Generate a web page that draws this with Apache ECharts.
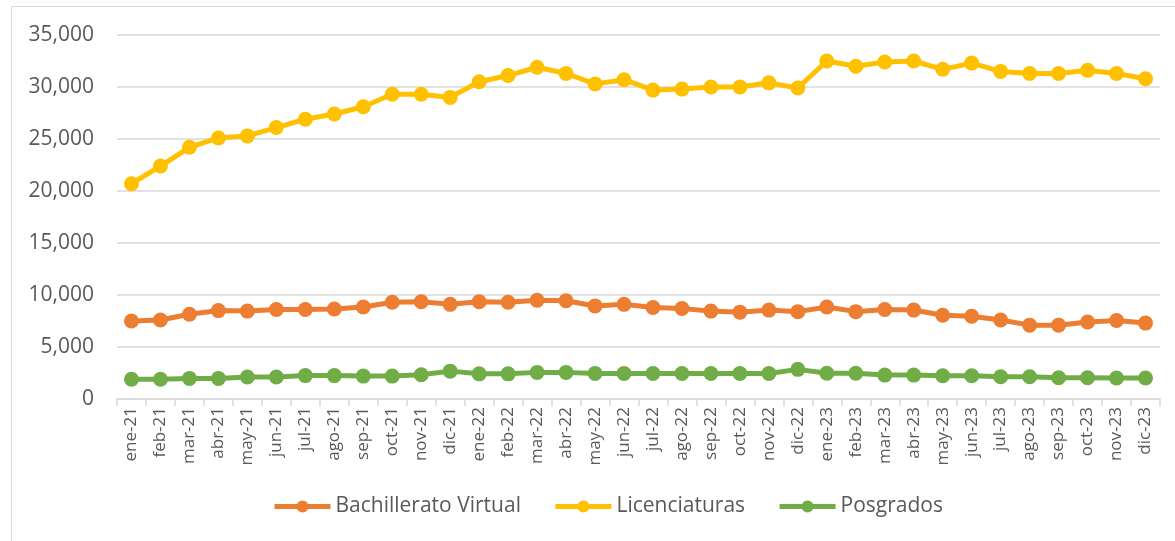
<!DOCTYPE html>
<html lang="es">
<head>
<meta charset="UTF-8">
<title>Matrícula mensual</title>
<script src="https://cdn.jsdelivr.net/npm/echarts@6/dist/echarts.min.js"></script>
<style>
    body { margin: 0; padding: 0; background: #fff; overflow: hidden; }
    #frame {
        position: absolute; left: 11px; top: 6px;
        width: 1200px; height: 600px;
        border: 1px solid #d9d9d9;
    }
    #main { position: absolute; left: 0; top: 0; width: 1175px; height: 541px; }
</style>
</head>
<body>
<div id="frame"></div>
<div id="main"></div>
<script type="text/javascript">
    // meses (eje X)
    var meses = ['ene-21','feb-21','mar-21','abr-21','may-21','jun-21','jul-21','ago-21','sep-21','oct-21','nov-21','dic-21',
                 'ene-22','feb-22','mar-22','abr-22','may-22','jun-22','jul-22','ago-22','sep-22','oct-22','nov-22','dic-22',
                 'ene-23','feb-23','mar-23','abr-23','may-23','jun-23','jul-23','ago-23','sep-23','oct-23','nov-23','dic-23'];
    // valores por serie
    var bachillerato = [7500, 7600, 8150, 8500, 8450, 8600, 8600, 8650, 8850, 9300, 9350, 9100,
                        9350, 9300, 9500, 9450, 8950, 9100, 8800, 8700, 8450, 8350, 8550, 8400,
                        8850, 8400, 8600, 8550, 8050, 7950, 7600, 7100, 7100, 7400, 7550, 7300];
    var licenciaturas = [20700, 22400, 24200, 25100, 25300, 26100, 26900, 27400, 28100, 29300, 29300, 29000,
                         30500, 31100, 31900, 31300, 30300, 30700, 29700, 29800, 30000, 30000, 30400, 29900,
                         32500, 32000, 32400, 32500, 31700, 32300, 31500, 31300, 31300, 31600, 31300, 30800];
    var posgrados = [1900, 1900, 1980, 1980, 2120, 2120, 2250, 2250, 2200, 2200, 2330, 2680,
                     2420, 2420, 2560, 2560, 2460, 2460, 2450, 2450, 2450, 2450, 2450, 2850,
                     2480, 2480, 2300, 2300, 2240, 2240, 2140, 2140, 2050, 2050, 2020, 2020];

    var fuente = '"Open Sans", sans-serif';
    var myChart = echarts.init(document.getElementById('main'));

    function linea(nombre, datos, color) {
        return {
            name: nombre,
            type: 'line',
            data: datos,
            symbol: 'circle',
            symbolSize: 15,
            lineStyle: { color: color, width: 5 },
            itemStyle: { color: color },
            emphasis: { disabled: true }
        };
    }

    var option = {
        animation: false,
        grid: { left: 117, right: 15, top: 35, bottom: 142 },
        legend: {
            bottom: 19,
            left: 267,
            itemWidth: 56,
            itemHeight: 15,
            itemGap: 32,
            lineStyle: { width: 5 },
            textStyle: { fontFamily: fuente, fontSize: 21, color: '#595959' },
            data: ['Bachillerato Virtual', 'Licenciaturas', 'Posgrados']
        },
        xAxis: {
            type: 'category',
            data: meses,
            boundaryGap: true,
            axisLine: { lineStyle: { color: '#d9d9d9', width: 1.5 } },
            axisTick: { show: true, length: 7, lineStyle: { color: '#d9d9d9', width: 1.5 } },
            axisLabel: { rotate: 90, interval: 0, margin: 8, fontFamily: fuente, fontSize: 17, color: '#595959' }
        },
        yAxis: {
            type: 'value',
            min: 0,
            max: 35000,
            interval: 5000,
            axisLine: { show: false },
            axisTick: { show: false },
            splitLine: { lineStyle: { color: '#d9d9d9', width: 1.5 } },
            axisLabel: {
                margin: 23,
                fontFamily: fuente,
                fontSize: 21,
                color: '#595959',
                formatter: function (v) { return v.toLocaleString('en-US'); }
            }
        },
        series: [
            linea('Bachillerato Virtual', bachillerato, '#ED7D31'),
            linea('Licenciaturas', licenciaturas, '#FFC000'),
            linea('Posgrados', posgrados, '#70AD47')
        ]
    };

    myChart.setOption(option);
</script>
</body>
</html>
